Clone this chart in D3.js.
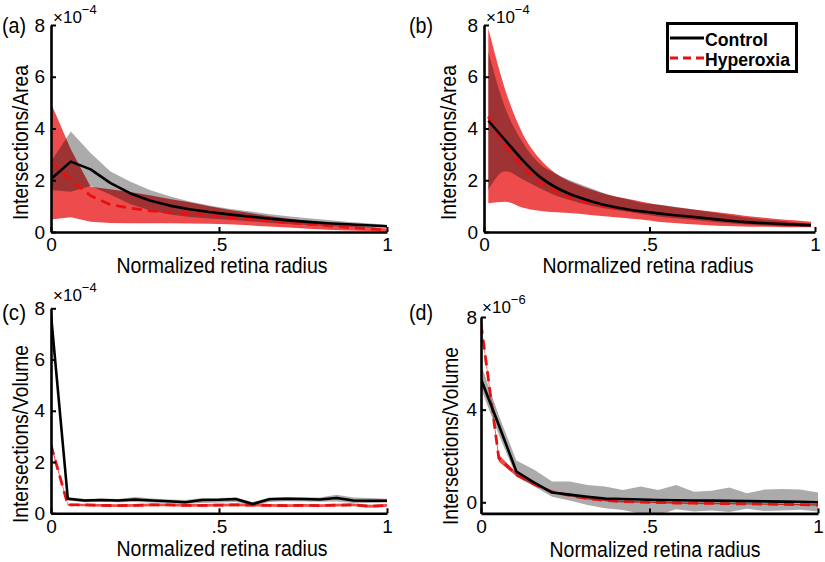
<!DOCTYPE html>
<html><head><meta charset="utf-8">
<script src="https://cdn.jsdelivr.net/npm/d3@7"></script>
<style>
body{margin:0;background:#fff;}
svg{display:block;font-family:"Liberation Sans",Arial,Helvetica,sans-serif;}
</style>
</head><body>
<svg id="chart" width="825" height="562"></svg>
<script>
// ---------- Panel (a): Intersections/Area ----------
const xA = [0, 0.059, 0.118, 0.176, 0.235, 0.294, 0.353, 0.412, 0.471, 0.529, 0.588, 0.647, 0.706, 0.765, 0.824, 0.882, 0.941, 1];
const ctrlA    = [2.05, 2.72, 2.42, 1.90, 1.50, 1.22, 1.02, 0.88, 0.77, 0.68, 0.60, 0.52, 0.45, 0.39, 0.34, 0.30, 0.26, 0.22];
const ctrlA_hi = [2.72, 3.88, 3.05, 2.35, 1.95, 1.62, 1.38, 1.18, 1.02, 0.90, 0.80, 0.70, 0.61, 0.53, 0.46, 0.40, 0.34, 0.28];
const ctrlA_lo = [1.62, 1.56, 1.78, 1.45, 1.08, 0.84, 0.68, 0.58, 0.52, 0.47, 0.42, 0.36, 0.31, 0.27, 0.23, 0.20, 0.18, 0.16];
const hypA     = [2.73, 2.00, 1.40, 1.06, 0.92, 0.82, 0.76, 0.71, 0.65, 0.58, 0.50, 0.43, 0.36, 0.30, 0.24, 0.18, 0.13, 0.08];
const hypA_hi  = [4.98, 3.20, 1.75, 1.65, 1.55, 1.42, 1.28, 1.15, 1.00, 0.86, 0.74, 0.62, 0.52, 0.42, 0.34, 0.26, 0.20, 0.14];
const hypA_lo  = [0.48, 0.57, 0.40, 0.35, 0.34, 0.34, 0.34, 0.33, 0.32, 0.30, 0.26, 0.21, 0.17, 0.13, 0.09, 0.06, 0.04, 0.02];

// ---------- Panel (b): Intersections/Area ----------
const xB = [0.013, 0.064, 0.115, 0.167, 0.218, 0.269, 0.321, 0.372, 0.423, 0.474, 0.526, 0.577, 0.628, 0.679, 0.731, 0.782, 0.833, 0.885, 0.936, 0.988];
const ctrlB    = [4.30, 3.55, 2.80, 2.15, 1.72, 1.42, 1.20, 1.02, 0.90, 0.80, 0.72, 0.65, 0.59, 0.52, 0.45, 0.39, 0.35, 0.32, 0.29, 0.26];
const ctrlB_hi = [6.97, 4.80, 3.50, 2.65, 2.25, 1.95, 1.70, 1.46, 1.30, 1.13, 1.06, 0.98, 0.88, 0.78, 0.68, 0.58, 0.50, 0.44, 0.38, 0.32];
const ctrlB_lo = [1.62, 2.35, 2.05, 1.70, 1.40, 1.20, 1.02, 0.90, 0.80, 0.70, 0.60, 0.53, 0.47, 0.41, 0.35, 0.30, 0.26, 0.23, 0.21, 0.19];
const hypB     = [4.46, 3.35, 2.55, 1.92, 1.55, 1.30, 1.12, 0.98, 0.87, 0.78, 0.71, 0.64, 0.58, 0.52, 0.46, 0.40, 0.36, 0.33, 0.30, 0.27];
const hypB_hi  = [7.87, 5.50, 3.85, 2.85, 2.25, 1.90, 1.65, 1.45, 1.30, 1.18, 1.05, 0.96, 0.88, 0.80, 0.72, 0.64, 0.57, 0.50, 0.45, 0.40];
const hypB_lo  = [1.11, 1.17, 0.95, 0.82, 0.76, 0.72, 0.66, 0.60, 0.54, 0.48, 0.40, 0.35, 0.30, 0.26, 0.23, 0.21, 0.20, 0.19, 0.18, 0.18];

// ---------- Panel (c): Intersections/Volume ----------
const xC = [0, 0.05, 0.1, 0.15, 0.2, 0.25, 0.3, 0.35, 0.4, 0.45, 0.5, 0.55, 0.6, 0.65, 0.7, 0.75, 0.8, 0.85, 0.9, 0.95, 1];
const ctrlC    = [7.75, 0.57, 0.50, 0.52, 0.50, 0.54, 0.50, 0.47, 0.43, 0.52, 0.53, 0.56, 0.36, 0.55, 0.57, 0.56, 0.54, 0.60, 0.50, 0.49, 0.49];
const ctrlC_hi = [7.85, 0.64, 0.56, 0.58, 0.56, 0.64, 0.58, 0.54, 0.52, 0.60, 0.60, 0.62, 0.44, 0.62, 0.64, 0.63, 0.62, 0.72, 0.62, 0.60, 0.57];
const ctrlC_lo = [7.60, 0.50, 0.43, 0.45, 0.43, 0.44, 0.42, 0.40, 0.36, 0.40, 0.42, 0.44, 0.30, 0.44, 0.47, 0.46, 0.45, 0.46, 0.40, 0.40, 0.42];
const hypC     = [2.67, 0.33, 0.33, 0.31, 0.30, 0.31, 0.33, 0.33, 0.31, 0.31, 0.32, 0.33, 0.32, 0.31, 0.30, 0.31, 0.30, 0.32, 0.33, 0.27, 0.31];
const hypC_hi  = [2.75, 0.37, 0.37, 0.36, 0.35, 0.36, 0.38, 0.38, 0.36, 0.36, 0.37, 0.38, 0.37, 0.36, 0.35, 0.36, 0.35, 0.37, 0.38, 0.33, 0.36];
const hypC_lo  = [2.58, 0.29, 0.28, 0.26, 0.25, 0.26, 0.28, 0.28, 0.26, 0.26, 0.27, 0.28, 0.27, 0.26, 0.25, 0.26, 0.25, 0.27, 0.28, 0.22, 0.26];

// ---------- Panel (d): Intersections/Volume ----------
const xD = [0, 0.053, 0.105, 0.158, 0.211, 0.263, 0.316, 0.368, 0.421, 0.474, 0.526, 0.579, 0.632, 0.684, 0.737, 0.789, 0.842, 0.895, 0.947, 1];
const ctrlD    = [5.32, 3.33, 1.33, 0.85, 0.42, 0.33, 0.24, 0.16, 0.14, 0.12, 0.10, 0.09, 0.08, 0.07, 0.06, 0.05, 0.04, 0.03, 0.02, 0.00];
const ctrlD_hi = [5.95, 3.75, 1.80, 1.40, 0.90, 0.90, 0.75, 0.68, 0.53, 0.68, 0.53, 0.75, 0.46, 0.50, 0.64, 0.39, 0.55, 0.57, 0.55, 0.42];
const ctrlD_lo = [4.90, 2.90, 1.10, 0.68, 0.24, 0.08, -0.12, -0.26, -0.33, -0.50, -0.55, -0.30, -0.40, -0.35, -0.42, -0.28, -0.38, -0.35, -0.32, -0.40];
const hypD     = [7.71, 1.90, 1.20, 0.78, 0.45, 0.30, 0.16, 0.08, 0.03, 0.01, -0.01, -0.03, -0.04, -0.05, -0.06, -0.07, -0.08, -0.09, -0.10, -0.12];
const hypD_hi  = [7.80, 2.05, 1.28, 0.84, 0.50, 0.34, 0.20, 0.12, 0.07, 0.04, 0.02, 0.00, -0.01, -0.02, -0.03, -0.04, -0.05, -0.06, -0.07, -0.09];
const hypD_lo  = [7.62, 1.75, 1.12, 0.72, 0.40, 0.26, 0.12, 0.04, -0.01, -0.02, -0.04, -0.06, -0.07, -0.08, -0.09, -0.10, -0.11, -0.12, -0.13, -0.15];

// ---------- Tick labels / text ----------
const xTickValues = [0, 0.5, 1];
const xTickLabels = ["0", ".5", "1"];
const yTicksArea = [0, 2, 4, 6, 8];
const yTicksVolD = [0, 4, 8];
const xTitle = "Normalized retina radius";
const legendLabels = ["Control", "Hyperoxia"];

const RED = "#e81010";
const svg = d3.select("#chart");

const panels = [
  {id:"a", label:"(a)", x:xA, c:ctrlA, cHi:ctrlA_hi, cLo:ctrlA_lo, h:hypA, hHi:hypA_hi, hLo:hypA_lo,
   x0:51, x1:387, yBot:232, yTop:25, yDom:[0,8], yTicks:yTicksArea, yTitle:"Intersections/Area",
   exp:"\u22124", curve:d3.curveLinear, tickPad:6,
   lab:[2,33], expPos:[53,23], xt:[222,273], yt:[28,142.5,155]},
  {id:"b", label:"(b)", x:xB, c:ctrlB, cHi:ctrlB_hi, cLo:ctrlB_lo, h:hypB, hHi:hypB_hi, hLo:hypB_lo,
   x0:484, x1:815, yBot:232, yTop:25, yDom:[0,8], yTicks:yTicksArea, yTitle:"Intersections/Area",
   exp:"\u22124", curve:d3.curveMonotoneX, tickPad:6,
   lab:[409,33], expPos:[486,23], xt:[648,273], yt:[456,142.5,155]},
  {id:"c", label:"(c)", x:xC, c:ctrlC, cHi:ctrlC_hi, cLo:ctrlC_lo, h:hypC, hHi:hypC_hi, hLo:hypC_lo,
   x0:51, x1:387, yBot:513.3, yTop:308.3, yDom:[0,8], yTicks:yTicksArea, yTitle:"Intersections/Volume",
   exp:"\u22124", curve:d3.curveLinear, tickPad:6,
   lab:[2,320], expPos:[53,301], xt:[222,556], yt:[28,434,178]},
  {id:"d", label:"(d)", x:xD, c:ctrlD, cHi:ctrlD_hi, cLo:ctrlD_lo, h:hypD, hHi:hypD_hi, hLo:hypD_lo,
   x0:481, x1:818, yBot:513.4, yTop:317, yDom:[-0.48,8], yTicks:yTicksVolD, yTitle:"Intersections/Volume",
   exp:"\u22126", curve:d3.curveLinear, tickPad:4,
   lab:[409,320], expPos:[482,313], xt:[655,557], yt:[458,436,178]}
];

panels.forEach(p => {
  const x = d3.scaleLinear().domain([0,1]).range([p.x0, p.x1]);
  const y = d3.scaleLinear().domain(p.yDom).range([p.yBot, p.yTop]);
  const g = svg.append("g");
  const clipId = "clip-" + p.id;
  svg.append("defs").append("clipPath").attr("id", clipId)
    .append("rect").attr("x", p.x0).attr("y", p.yTop).attr("width", p.x1 - p.x0).attr("height", p.yBot - p.yTop);
  const plot = g.append("g").attr("clip-path", `url(#${clipId})`);

  const idx = d3.range(p.x.length);
  const band = (lo, hi) => d3.area().curve(p.curve)
    .x(i => x(p.x[i])).y0(i => y(lo[i])).y1(i => y(hi[i]));
  const line = (v) => d3.line().curve(p.curve).x(i => x(p.x[i])).y(i => y(v[i]));

  plot.append("path").datum(idx).attr("d", band(p.hLo, p.hHi))
    .attr("fill", RED).attr("fill-opacity", 0.75).attr("stroke", "none");
  plot.append("path").datum(idx).attr("d", band(p.cLo, p.cHi))
    .attr("fill", "#000").attr("fill-opacity", 0.33).attr("stroke", "none");
  plot.append("path").datum(idx).attr("d", line(p.h))
    .attr("fill", "none").attr("stroke", RED).attr("stroke-width", 2.8).attr("stroke-dasharray", "10,6");
  plot.append("path").datum(idx).attr("d", line(p.c))
    .attr("fill", "none").attr("stroke", "#000").attr("stroke-width", 2.6).attr("stroke-linejoin", "round");

  // axes
  const xAxis = d3.axisBottom(x).tickValues(xTickValues)
    .tickFormat((d, i) => xTickLabels[i]).tickSize(-5).tickSizeOuter(0).tickPadding(6);
  const yAxis = d3.axisLeft(y).tickValues(p.yTicks).tickFormat(d => String(d))
    .tickSize(-5).tickSizeOuter(0).tickPadding(p.tickPad);
  const gx = g.append("g").attr("transform", `translate(0,${p.yBot})`).call(xAxis);
  const gy = g.append("g").attr("transform", `translate(${p.x0},0)`).call(yAxis);
  [gx, gy].forEach(a => {
    a.select(".domain").attr("stroke", "#000").attr("stroke-width", 2.6);
    a.selectAll(".tick line").attr("stroke", "#000").attr("stroke-width", 2);
    a.selectAll(".tick text").attr("fill", "#000").attr("font-size", 19)
      .attr("font-family", '"Liberation Sans",Arial,sans-serif');
  });

  // titles
  g.append("text").attr("x", p.xt[0]).attr("y", p.xt[1]).attr("text-anchor", "middle")
    .attr("font-size", 21.5).attr("textLength", 211).attr("lengthAdjust", "spacingAndGlyphs").text(xTitle);
  g.append("text").attr("transform", `translate(${p.yt[0]},${p.yt[1]}) rotate(-90)`)
    .attr("text-anchor", "middle").attr("font-size", 21.5).attr("textLength", p.yt[2])
    .attr("lengthAdjust", "spacingAndGlyphs").text(p.yTitle);
  g.append("text").attr("x", p.lab[0]).attr("y", p.lab[1]).attr("font-size", 22)
    .attr("textLength", 24).attr("lengthAdjust", "spacingAndGlyphs").text(p.label);
  const e = g.append("text").attr("x", p.expPos[0]).attr("y", p.expPos[1]).attr("font-size", 17);
  e.append("tspan").text("\u00d710");
  e.append("tspan").attr("dy", -9).attr("font-size", 13).text(p.exp);
});

// legend (panel b)
const leg = svg.append("g");
leg.append("rect").attr("x", 667.5).attr("y", 23.5).attr("width", 129).attr("height", 48)
  .attr("fill", "#fff").attr("stroke", "#000").attr("stroke-width", 3);
leg.append("line").attr("x1", 670).attr("x2", 704).attr("y1", 38).attr("y2", 38)
  .attr("stroke", "#000").attr("stroke-width", 3);
leg.append("line").attr("x1", 670).attr("x2", 704).attr("y1", 58).attr("y2", 58)
  .attr("stroke", RED).attr("stroke-width", 3).attr("stroke-dasharray", "8,5");
leg.append("text").attr("x", 705).attr("y", 45.5).attr("font-size", 17.8).attr("font-weight", "bold")
  .attr("textLength", 63).attr("lengthAdjust", "spacingAndGlyphs").text(legendLabels[0]);
leg.append("text").attr("x", 705).attr("y", 65.5).attr("font-size", 17.8).attr("font-weight", "bold")
  .attr("textLength", 85).attr("lengthAdjust", "spacingAndGlyphs").text(legendLabels[1]);
</script>
</body></html>
